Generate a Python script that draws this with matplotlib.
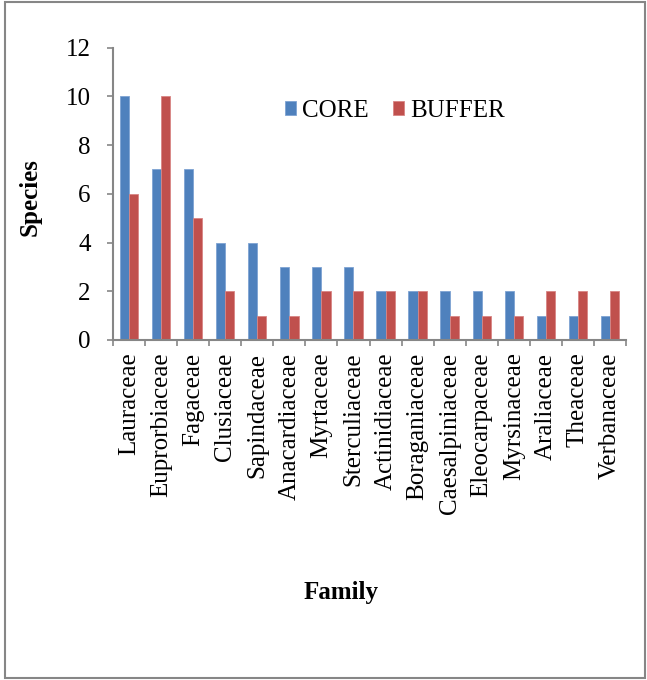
import matplotlib
matplotlib.use("Agg")
import matplotlib.pyplot as plt
import numpy as np
from matplotlib.patches import Rectangle

plt.rcParams['font.family'] = ['Liberation Serif', 'DejaVu Serif']

families = ["Lauraceae", "Euprorbiaceae", "Fagaceae", "Clusiaceae", "Sapindaceae",
            "Anacardiaceae", "Myrtaceae", "Sterculiaceae", "Actinidiaceae",
            "Boraganiaceae", "Caesalpiniaceae", "Eleocarpaceae", "Myrsinaceae",
            "Araliaceae", "Theaceae", "Verbanaceae"]
core = [10, 7, 7, 4, 4, 3, 3, 3, 2, 2, 2, 2, 2, 1, 1, 1]
buffer_zone = [6, 10, 5, 2, 1, 1, 2, 2, 2, 2, 1, 1, 1, 2, 2, 2]
y_ticks = [0, 2, 4, 6, 8, 10, 12]

BLUE = "#4F81BD"
RED = "#C0504D"
AXIS = "#868686"
FS = 18

fig = plt.figure(figsize=(6.47, 6.80), dpi=100)
ax = fig.add_axes([0.1747, 0.5, 0.9675 - 0.1747, 0.930 - 0.5])

x = np.arange(len(families))
w = 1 / 3.5  # gap width 150%
ax.bar(x - w / 2, core, w, color=BLUE, edgecolor="#7EA3D3", linewidth=0.6, label="CORE")
ax.bar(x + w / 2, buffer_zone, w, color=RED, edgecolor="#D88584", linewidth=0.6, label="BUFFER")

ax.set_xlim(-0.5, len(families) - 0.5)
ax.set_ylim(0, 12)
ax.set_yticks(y_ticks)
ax.set_yticklabels([str(v) for v in y_ticks], fontsize=FS)

ax.set_xticks(x)
ax.set_xticklabels(families, rotation=90, fontsize=FS, va="top")
ax.set_xticks(np.arange(-0.5, len(families)), minor=True)
ax.tick_params(axis="x", which="major", length=0, pad=9)
ax.tick_params(axis="x", which="minor", length=4, width=1.2, color=AXIS, direction="out")
ax.tick_params(axis="y", length=4, width=1.2, color=AXIS, direction="out", pad=12)

for side in ["top", "right"]:
    ax.spines[side].set_visible(False)
for side in ["left", "bottom"]:
    ax.spines[side].set_color(AXIS)
    ax.spines[side].set_linewidth(1.5)

fig.text(30 / 647, 1 - 197 / 680, "Species", rotation=90, fontsize=FS,
         fontweight="bold", ha="center", va="center")
fig.text(341 / 647, 1 - 593 / 680, "Family", fontsize=FS,
         fontweight="bold", ha="center", va="center")

fig.legend(loc="center", bbox_to_anchor=(395 / 647, 1 - 111 / 680), ncol=2,
           frameon=False, fontsize=FS, handlelength=0.45, handleheight=0.45,
           handletextpad=0.25, columnspacing=0.95)

# outer frame around the chart area
fig.patches.append(Rectangle((5 / 647, 2 / 680), 640 / 647, 676 / 680,
                             transform=fig.transFigure, fill=False,
                             edgecolor=AXIS, linewidth=1.5))

fig.savefig("out.png", dpi=100)
